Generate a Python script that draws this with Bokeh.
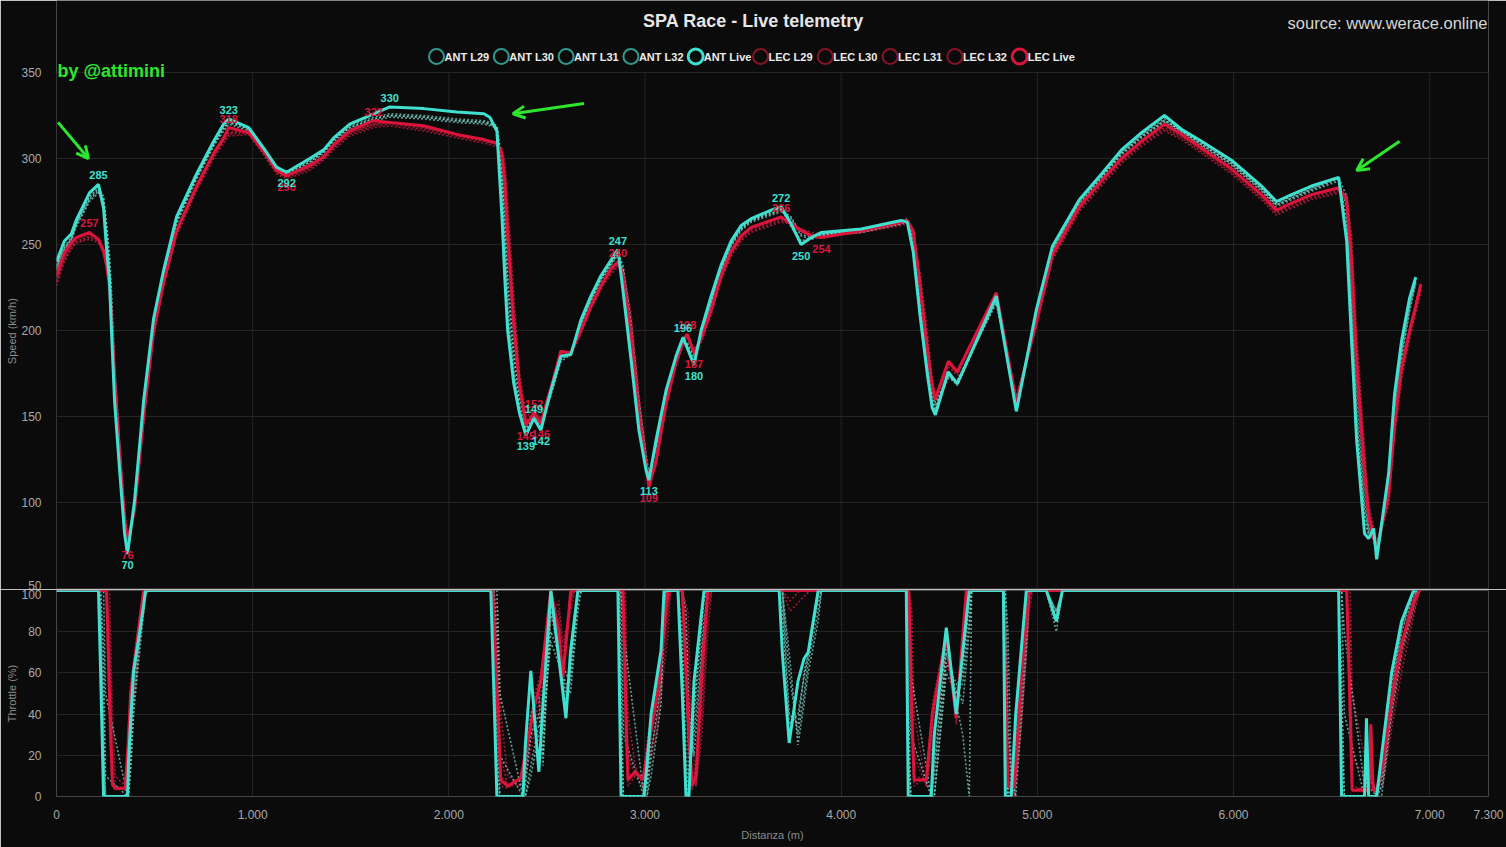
import numpy as np
from bokeh.plotting import figure
from bokeh.layouts import column
from bokeh.models import (Range1d, FixedTicker, Label, Arrow, OpenHead)
from bokeh.core.properties import value
from bokeh.embed import file_html
from bokeh.resources import INLINE

nan = float("nan")

# ---------------- DATA ----------------
SERIES_NAMES = ["ANT L29", "ANT L30", "ANT L31", "ANT L32", "ANT Live",
                "LEC L29", "LEC L30", "LEC L31", "LEC L32", "LEC Live"]

# distance grid for speed (m)
DIST = [0, 40, 75, 100, 168, 214, 240, 255, 270, 281,
        296, 321, 347, 362, 398, 444, 495, 546, 612, 714,
        801, 852, 878, 980, 1056, 1122, 1173, 1291, 1362, 1413,
        1495, 1617, 1699, 1872, 2041, 2179, 2209, 2245, 2270, 2286,
        2300, 2330, 2360, 2393, 2434, 2469, 2520, 2571, 2622, 2673,
        2724, 2776, 2827, 2862, 2888, 2929, 2969, 3005, 3020, 3056,
        3107, 3158, 3194, 3215, 3250, 3286, 3337, 3388, 3439, 3490,
        3541, 3643, 3694, 3745, 3796, 3847, 3900, 4102, 4306, 4337,
        4367, 4403, 4439, 4464, 4480, 4546, 4592, 4791, 4893, 4995,
        5077, 5214, 5327, 5429, 5531, 5648, 5735, 5837, 5990, 6143,
        6219, 6296, 6398, 6536, 6577, 6602, 6628, 6668, 6689, 6714,
        6730, 6791, 6821, 6857, 6898, 6929, 6955]

ANT_LIVE_SPEED = [240, 252, 256, 264, 280, 285, 271, 248, 229, 198,
                  159, 120, 82, 70, 101, 159, 207, 235, 266, 291,
                  310, 320, 323, 318, 306, 295, 292, 300, 305, 312,
                  320, 326, 330, 329, 327, 326, 324, 316, 268, 229,
                  200, 170, 152, 139, 149, 142, 165, 185, 186, 206,
                  220, 232, 241, 247, 223, 183, 142, 119, 113, 136,
                  165, 185, 196, 190, 180, 200, 220, 238, 252, 261,
                  265, 270, 272, 262, 250, 254, 257, 259, 264, 263,
                  246, 208, 175, 155, 151, 176, 169, 220, 153, 212,
                  249, 276, 291, 305, 315, 325, 317, 310, 299, 284,
                  275, 279, 284, 289, 252, 194, 136, 82, 79, 85,
                  67, 117, 163, 194, 219, 231, nan]

ANT_L29_SPEED = [238, 249, 254, 262, 277, 282, 275, 256, 236, 210,
                 168, 126, 86, 73, 98, 155, 204, 233, 264, 289,
                 308, 318, 321, 317, 305, 294, 291, 298, 304, 311,
                 318, 323, 325, 324, 322, 321, 320, 318, 290, 250,
                 215, 178, 156, 143, 150, 144, 163, 184, 187, 204,
                 218, 230, 239, 245, 230, 190, 148, 121, 114, 133,
                 162, 183, 195, 191, 182, 197, 217, 236, 250, 259,
                 264, 268, 270, 262, 252, 254, 256, 258, 263, 264,
                 252, 215, 180, 160, 154, 174, 168, 218, 156, 208,
                 246, 274, 289, 303, 313, 322, 316, 308, 297, 282,
                 273, 277, 282, 288, 265, 210, 150, 95, 82, 79,
                 72, 112, 158, 190, 216, 229, nan]

ANT_L30_SPEED = [235, 246, 252, 260, 275, 280, 276, 260, 240, 215,
                 172, 130, 88, 75, 97, 152, 202, 231, 262, 288,
                 307, 316, 320, 316, 304, 293, 290, 297, 303, 310,
                 317, 322, 324, 323, 321, 320, 319, 318, 295, 262,
                 225, 185, 160, 145, 151, 146, 162, 182, 186, 203,
                 217, 229, 238, 244, 235, 198, 154, 124, 116, 131,
                 160, 181, 193, 192, 184, 195, 215, 234, 249, 258,
                 263, 267, 269, 265, 255, 253, 255, 257, 262, 264,
                 255, 222, 186, 164, 156, 172, 170, 216, 158, 205,
                 244, 272, 288, 302, 312, 321, 315, 307, 296, 281,
                 272, 276, 281, 287, 272, 220, 160, 100, 84, 78,
                 74, 108, 152, 186, 213, 227, nan]

ANT_L31_SPEED = [237, 248, 253, 261, 276, 281, 273, 252, 232, 205,
                 165, 124, 85, 72, 100, 157, 205, 234, 265, 290,
                 309, 319, 322, 318, 306, 295, 292, 299, 305, 312,
                 319, 324, 326, 325, 323, 322, 321, 319, 285, 240,
                 208, 175, 154, 142, 148, 143, 164, 185, 186, 205,
                 219, 231, 240, 246, 228, 187, 146, 120, 114, 134,
                 163, 184, 195, 190, 181, 198, 218, 237, 251, 260,
                 264, 269, 271, 260, 251, 253, 256, 258, 263, 264,
                 250, 212, 178, 158, 153, 175, 169, 219, 155, 210,
                 247, 275, 290, 304, 314, 323, 316, 309, 298, 283,
                 274, 278, 283, 289, 260, 205, 145, 90, 81, 80,
                 70, 114, 160, 192, 217, 230, nan]

ANT_L32_SPEED = [236, 247, 253, 262, 278, 283, 278, 262, 244, 222,
                 180, 135, 92, 76, 99, 156, 203, 232, 263, 289,
                 308, 317, 321, 317, 305, 294, 291, 298, 304, 311,
                 318, 323, 325, 324, 322, 321, 320, 319, 300, 270,
                 232, 190, 162, 146, 150, 145, 163, 183, 187, 204,
                 218, 230, 239, 245, 238, 205, 160, 128, 117, 132,
                 161, 182, 194, 193, 186, 196, 216, 235, 250, 259,
                 264, 268, 270, 266, 256, 254, 256, 258, 263, 265,
                 258, 228, 192, 168, 158, 173, 171, 217, 160, 206,
                 245, 273, 289, 303, 313, 322, 316, 308, 297, 282,
                 273, 277, 282, 289, 278, 232, 172, 110, 86, 80,
                 75, 106, 150, 184, 211, 228, nan]

LEC_LIVE_SPEED = [232, 245, 251, 254, 257, 253, 246, 238, 226, 205,
                  170, 128, 90, 76, 96, 150, 200, 228, 258, 284,
                  303, 312, 318, 315, 304, 293, 290, 296, 301, 308,
                  316, 322, 321, 319, 314, 311, 310, 309, 303, 285,
                  255, 205, 168, 145, 152, 146, 166, 188, 187, 200,
                  214, 226, 236, 240, 232, 198, 152, 122, 109, 124,
                  158, 182, 194, 198, 187, 195, 212, 232, 246, 255,
                  260, 264, 266, 262, 258, 255, 254, 258, 263, 264,
                  258, 225, 188, 168, 160, 182, 176, 222, 158, 205,
                  244, 272, 287, 300, 310, 320, 314, 306, 294, 279,
                  270, 274, 279, 283, 276, 240, 180, 118, 92, 80,
                  72, 105, 145, 178, 200, 214, 227]

LEC_L29_SPEED = [226, 240, 247, 251, 254, 252, 247, 241, 230, 212,
                 178, 135, 95, 80, 94, 147, 197, 226, 256, 282,
                 301, 310, 314, 315, 303, 292, 289, 294, 300, 306,
                 314, 319, 320, 317, 313, 310, 309, 308, 306, 295,
                 268, 215, 172, 150, 153, 148, 167, 186, 186, 199,
                 213, 225, 234, 238, 235, 205, 158, 126, 111, 122,
                 155, 180, 192, 196, 189, 194, 210, 230, 244, 253,
                 258, 262, 264, 262, 259, 256, 255, 257, 262, 263,
                 258, 230, 196, 170, 160, 182, 176, 220, 160, 203,
                 242, 270, 285, 298, 308, 317, 312, 304, 292, 277,
                 268, 272, 277, 281, 278, 250, 192, 128, 98, 84,
                 76, 100, 140, 174, 197, 212, 224]

LEC_L30_SPEED = [229, 242, 249, 252, 255, 253, 246, 239, 227, 208,
                 172, 130, 92, 79, 95, 149, 199, 227, 257, 283,
                 302, 311, 315, 316, 304, 292, 289, 295, 300, 307,
                 315, 320, 321, 318, 314, 311, 310, 309, 304, 288,
                 258, 208, 170, 148, 152, 147, 166, 187, 186, 200,
                 214, 226, 235, 239, 233, 200, 155, 124, 110, 123,
                 156, 181, 193, 197, 188, 194, 211, 231, 245, 254,
                 259, 263, 265, 262, 258, 255, 254, 257, 262, 263,
                 257, 227, 192, 167, 159, 181, 175, 221, 159, 204,
                 243, 271, 286, 299, 309, 318, 313, 305, 293, 278,
                 269, 273, 278, 282, 277, 245, 186, 122, 95, 82,
                 74, 102, 142, 176, 198, 213, 225]

LEC_L31_SPEED = [231, 244, 250, 253, 256, 254, 248, 242, 232, 216,
                 182, 138, 98, 81, 93, 146, 196, 225, 255, 281,
                 300, 309, 313, 314, 302, 291, 288, 293, 299, 305,
                 313, 318, 319, 316, 312, 309, 308, 307, 306, 298,
                 275, 222, 176, 152, 154, 149, 168, 187, 185, 198,
                 212, 224, 233, 237, 236, 210, 163, 129, 112, 121,
                 154, 179, 191, 195, 190, 193, 209, 229, 243, 252,
                 257, 261, 263, 262, 259, 257, 256, 257, 261, 262,
                 259, 233, 200, 173, 162, 183, 177, 219, 162, 202,
                 241, 269, 284, 297, 307, 316, 311, 303, 291, 276,
                 267, 271, 276, 280, 279, 255, 198, 132, 100, 86,
                 77, 98, 138, 172, 195, 210, 222]

LEC_L32_SPEED = [228, 241, 248, 251, 253, 251, 245, 238, 226, 206,
                 170, 128, 90, 78, 97, 151, 201, 229, 258, 284,
                 303, 311, 315, 316, 304, 293, 290, 295, 301, 307,
                 315, 320, 321, 318, 314, 311, 310, 309, 302, 283,
                 250, 200, 166, 147, 151, 146, 166, 188, 187, 201,
                 215, 227, 236, 240, 231, 196, 150, 121, 110, 125,
                 159, 183, 194, 197, 187, 196, 213, 232, 246, 255,
                 260, 264, 266, 263, 259, 256, 255, 258, 263, 264,
                 255, 223, 188, 165, 158, 179, 174, 222, 158, 206,
                 244, 272, 287, 300, 310, 319, 314, 306, 294, 279,
                 270, 274, 279, 283, 275, 238, 178, 115, 90, 80,
                 73, 104, 146, 180, 201, 216, 228]

# throttle (%) — ANT distance grid
THR_D_ANT = [0, 214, 225, 240, 250, 362, 367, 380, 393, 418, 440, 454, 470,
             2214, 2230, 2245, 2260, 2378, 2390, 2418, 2459, 2480, 2520, 2597, 2620, 2658, 2675,
             2862, 2870, 2878, 2890, 2995, 3010, 3031, 3082, 3097, 3110, 3168, 3190, 3209, 3224, 3250, 3301, 3320,
             3684, 3700, 3735, 3780, 3811, 3832, 3883, 3900,
             4332, 4342, 4355, 4459, 4475, 4536, 4587, 4620, 4653, 4665, 4827, 4837, 4850, 4867, 4890, 4944, 4960,
             5046, 5097, 5128,
             6536, 6551, 6565, 6668, 6678, 6689, 6730, 6755, 6806, 6857, 6918, 6935]

ANT_LIVE_THR = [100, 100, 60, 0, 0, 0, 17, 40, 61, 76, 90, 100, 100,
                100, 50, 0, 0, 0, 25, 61, 12, 45, 100, 38, 70, 100, 100,
                100, 50, 0, 0, 0, 15, 40, 71, 100, 100, 100, 50, 0, 0, 56, 100, 100,
                100, 70, 26, 56, 67, 70, 100, 100,
                100, 0, 0, 0, 30, 82, 40, 70, 100, 100, 100, 0, 0, 0, 40, 100, 100,
                100, 85, 100,
                100, 0, 0, 0, 38, 0, 0, 20, 60, 85, 100, 100]

ANT_L29_THR = [100, 100, 100, 40, 0, 0, 5, 30, 55, 75, 95, 100, 100,
               100, 100, 40, 0, 0, 5, 30, 40, 20, 90, 50, 60, 100, 100,
               100, 100, 60, 0, 0, 5, 30, 65, 95, 100, 100, 80, 20, 0, 40, 95, 100,
               100, 100, 40, 35, 60, 70, 95, 100,
               100, 50, 0, 0, 10, 70, 50, 60, 95, 100, 100, 60, 0, 5, 25, 90, 100,
               100, 90, 100,
               100, 60, 0, 0, 20, 5, 0, 10, 50, 80, 98, 100]

ANT_L30_THR = [100, 100, 100, 70, 10, 0, 0, 20, 45, 70, 90, 100, 100,
               100, 100, 80, 20, 0, 0, 15, 35, 30, 80, 60, 55, 95, 100,
               100, 100, 100, 30, 0, 0, 20, 55, 90, 100, 100, 100, 60, 10, 30, 85, 100,
               100, 100, 60, 30, 50, 65, 90, 100,
               100, 100, 30, 0, 0, 65, 55, 45, 80, 100, 100, 100, 40, 0, 10, 80, 100,
               100, 88, 100,
               100, 100, 40, 0, 10, 10, 0, 5, 45, 75, 95, 100]

ANT_L31_THR = [100, 100, 90, 20, 0, 0, 10, 35, 60, 78, 95, 100, 100,
               100, 90, 20, 0, 0, 10, 40, 50, 15, 95, 45, 65, 100, 100,
               100, 90, 30, 0, 0, 8, 35, 68, 98, 100, 100, 70, 5, 0, 45, 98, 100,
               100, 90, 35, 40, 58, 68, 98, 100,
               100, 20, 0, 0, 15, 75, 45, 30, 0, 100, 100, 30, 0, 0, 35, 95, 100,
               100, 80, 100,
               100, 30, 0, 0, 30, 0, 0, 15, 55, 82, 100, 100]

ANT_L32_THR = [100, 100, 100, 100, 50, 0, 0, 15, 40, 65, 85, 98, 100,
               100, 100, 100, 50, 0, 0, 10, 30, 35, 75, 55, 50, 90, 100,
               100, 100, 100, 80, 0, 0, 10, 45, 85, 100, 100, 100, 90, 40, 20, 80, 100,
               100, 100, 70, 25, 45, 60, 85, 100,
               100, 100, 60, 0, 0, 60, 50, 55, 85, 100, 100, 100, 80, 10, 0, 70, 100,
               100, 90, 100,
               100, 100, 80, 5, 5, 15, 0, 0, 40, 70, 92, 100]

# throttle (%) — LEC distance grid
THR_D_LEC = [0, 255, 270, 285, 300, 350, 365, 378, 413, 444, 460,
             2224, 2250, 2265, 2300, 2367, 2403, 2434, 2469, 2520, 2560, 2581, 2622, 2640,
             2870, 2888, 2900, 2913, 2950, 2990, 3015, 3066, 3117, 3130,
             3190, 3219, 3240, 3260, 3290, 3320, 3340,
             3700, 3740, 3790, 3840,
             4345, 4360, 4372, 4434, 4465, 4536, 4587, 4638, 4655, 4827, 4840, 4850, 4883, 4920, 4959, 4975,
             6577, 6595, 6605, 6690, 6700, 6712, 6730, 6760, 6810, 6860, 6920, 6949]

LEC_LIVE_THR = [100, 100, 50, 6, 4, 4, 25, 50, 77, 100, 100,
                100, 40, 8, 5, 9, 27, 43, 56, 100, 80, 58, 100, 100,
                100, 100, 50, 8, 12, 8, 24, 51, 100, 100,
                100, 40, 5, 10, 60, 100, 100,
                100, 100, 100, 100,
                100, 40, 8, 8, 40, 78, 38, 100, 100, 100, 40, 5, 5, 60, 100, 100,
                100, 40, 3, 3, 35, 3, 3, 15, 50, 75, 95, 100]

LEC_L29_THR = [100, 100, 80, 20, 5, 3, 15, 40, 70, 95, 100,
               100, 70, 20, 5, 6, 20, 35, 50, 90, 90, 70, 95, 100,
               100, 100, 80, 20, 10, 5, 15, 40, 90, 100,
               100, 70, 10, 5, 40, 90, 100,
               100, 95, 100, 100,
               100, 70, 20, 5, 30, 70, 45, 90, 100, 100, 70, 10, 0, 45, 95, 100,
               100, 80, 20, 5, 20, 5, 2, 10, 40, 68, 90, 100]

LEC_L30_THR = [100, 100, 30, 5, 3, 5, 30, 55, 80, 100, 100,
               100, 30, 5, 4, 10, 30, 48, 60, 100, 75, 55, 98, 100,
               100, 90, 30, 5, 10, 10, 30, 55, 100, 100,
               100, 30, 3, 15, 70, 100, 100,
               100, 100, 100, 100,
               100, 30, 5, 10, 45, 80, 35, 100, 100, 100, 30, 3, 8, 65, 100, 100,
               100, 30, 3, 5, 30, 3, 5, 18, 55, 80, 97, 100]

LEC_L31_THR = [100, 100, 100, 40, 10, 5, 10, 35, 65, 90, 100,
               100, 90, 40, 10, 5, 15, 30, 45, 85, 95, 75, 90, 100,
               100, 100, 100, 40, 15, 5, 10, 35, 80, 100,
               100, 90, 30, 5, 30, 80, 100,
               100, 90, 95, 100,
               100, 90, 40, 5, 25, 65, 50, 80, 100, 100, 90, 30, 0, 35, 90, 100,
               100, 100, 50, 8, 10, 8, 0, 5, 35, 62, 88, 100]

LEC_L32_THR = [100, 100, 60, 8, 4, 4, 22, 48, 75, 98, 100,
               100, 50, 10, 6, 8, 25, 40, 55, 95, 85, 62, 100, 100,
               100, 100, 60, 10, 12, 8, 20, 48, 95, 100,
               100, 50, 8, 8, 50, 95, 100,
               100, 100, 100, 100,
               100, 50, 10, 8, 35, 75, 40, 95, 100, 100, 50, 8, 3, 55, 98, 100,
               100, 50, 5, 3, 28, 4, 3, 12, 45, 72, 93, 100]

# annotated extremes of the live laps
ANT_MARK_D = [214, 362, 878, 1173, 1699, 2393, 2434, 2469, 2862, 3020, 3194, 3250, 3694, 3796]
LEC_MARK_D = [168, 362, 878, 1173, 1617, 2393, 2434, 2469, 2862, 3020, 3215, 3250, 3694, 3900]
MARK_SIDE = ["max", "min", "max", "min", "max", "min", "max", "min", "max", "min", "max", "min", "max", "min"]

X_TICKS = [0, 1000, 2000, 3000, 4000, 5000, 6000, 7000, 7300]
X_TICK_LABELS = ["0", "1.000", "2.000", "3.000", "4.000", "5.000", "6.000", "7.000", "7.300"]
SPEED_TICKS = [50, 100, 150, 200, 250, 300, 350]
THR_TICKS = [0, 20, 40, 60, 80, 100]

# ---------------- STYLE ----------------
FONT = "Liberation Sans"
BG = "#0b0b0b"
GRID = "#242424"
TICK_C = "#a9a9a9"
AXLBL_C = "#8c8c8c"
ANT_LIVE_C = "#40e0d0"
ANT_OLD_C = "#7fcfc3"
ANT_OLD_LEG = "#2f9a89"
LEC_LIVE_C = "#dc143c"
LEC_OLD_C = "#c21d3f"
LEC_OLD_LEG = "#861328"
GREEN = "#2ee62e"

for arr in [ANT_LIVE_SPEED, ANT_L29_SPEED, ANT_L30_SPEED, ANT_L31_SPEED, ANT_L32_SPEED,
            LEC_LIVE_SPEED, LEC_L29_SPEED, LEC_L30_SPEED, LEC_L31_SPEED, LEC_L32_SPEED]:
    assert len(arr) == len(DIST), len(arr)
for arr in [ANT_LIVE_THR, ANT_L29_THR, ANT_L30_THR, ANT_L31_THR, ANT_L32_THR]:
    assert len(arr) == len(THR_D_ANT), len(arr)
for arr in [LEC_LIVE_THR, LEC_L29_THR, LEC_L30_THR, LEC_L31_THR, LEC_L32_THR]:
    assert len(arr) == len(THR_D_LEC), len(arr)

label_overrides = {t: l for t, l in zip(X_TICKS, X_TICK_LABELS)}

# layout geometry (px)
LEFT = 56
PLOT_RIGHT = 18
SPEED_TOP_PX = 72          # y of the 350 line
SPEED_H = 516              # 50..350
PX_PER_M = (1506 - LEFT - PLOT_RIGHT) / 7300.0
PX_PER_KMH = SPEED_H / 300.0
NB = "\u00a0"


def px_to_d(px):
    return (px - LEFT) / PX_PER_M


def py_to_v(py):
    return 350 + (SPEED_TOP_PX - py) / PX_PER_KMH


def style_yaxis(p):
    p.background_fill_color = BG
    p.border_fill_color = BG
    p.outline_line_color = None
    ax = p.yaxis[0]
    ax.axis_line_color = None
    ax.major_tick_line_color = None
    ax.minor_tick_line_color = None
    ax.major_label_text_color = TICK_C
    ax.major_label_text_font = FONT
    ax.major_label_text_font_size = "12px"
    ax.major_label_standoff = 9
    ax.axis_label_text_color = AXLBL_C
    ax.axis_label_text_font = FONT
    ax.axis_label_text_font_size = "11px"
    ax.axis_label_text_font_style = "normal"
    ax.axis_label_standoff = 0


# ---------------- SPEED PANEL (frame also hosts the header) ----------------
y1_top = 50 + (SPEED_H + SPEED_TOP_PX) / PX_PER_KMH
p1 = figure(width=1506, height=589, x_range=Range1d(0, 7300), y_range=Range1d(50, y1_top),
            output_backend="svg", toolbar_location=None, x_axis_location=None,
            min_border_left=LEFT, min_border_right=PLOT_RIGHT, min_border_top=0, min_border_bottom=1)
style_yaxis(p1)
p1.xgrid.visible = False
p1.ygrid.visible = False
p1.yaxis.ticker = FixedTicker(ticks=SPEED_TICKS)
# trailing no-break spaces re-centre the rotated label on the 50..350 band
p1.yaxis.axis_label = "Speed (km/h)" + NB * 24

# grid lines restricted to the speed area
p1.segment(x0=X_TICKS, y0=[50] * len(X_TICKS), x1=X_TICKS, y1=[350] * len(X_TICKS),
           line_color=GRID, line_width=1)
p1.segment(x0=[0] * len(SPEED_TICKS), y0=SPEED_TICKS, x1=[7300] * len(SPEED_TICKS),
           y1=SPEED_TICKS, line_color=GRID, line_width=1)

d = np.array(DIST, dtype=float)
for vals in [LEC_L29_SPEED, LEC_L30_SPEED, LEC_L31_SPEED, LEC_L32_SPEED]:
    p1.line(d, np.array(vals, dtype=float), line_color=LEC_OLD_C, line_width=1.6,
            line_dash="2 2", line_alpha=0.8)
for vals in [ANT_L29_SPEED, ANT_L30_SPEED, ANT_L31_SPEED, ANT_L32_SPEED]:
    p1.line(d, np.array(vals, dtype=float), line_color=ANT_OLD_C, line_width=1.6,
            line_dash="2 2", line_alpha=0.75)
p1.line(d, np.array(LEC_LIVE_SPEED, dtype=float), line_color=LEC_LIVE_C, line_width=3)
p1.line(d, np.array(ANT_LIVE_SPEED, dtype=float), line_color=ANT_LIVE_C, line_width=3)


def add_marks(p, mark_d, series, color):
    lookup = dict(zip(DIST, series))
    for side, baseline, off in [("max", "bottom", -5), ("min", "top", 7)]:
        xs = [m for m, s in zip(mark_d, MARK_SIDE) if s == side]
        ys = [lookup[m] for m in xs]
        txt = [str(int(v)) for v in ys]
        p.text(x=xs, y=ys, text=txt, text_color=color, text_font=value(FONT),
               text_font_size="11px", text_font_style="bold", text_align="center",
               text_baseline=baseline, y_offset=off)


add_marks(p1, LEC_MARK_D, LEC_LIVE_SPEED, "#d8173f")
add_marks(p1, ANT_MARK_D, ANT_LIVE_SPEED, ANT_LIVE_C)

# legend row in the header (hollow circles + names)
LEG_X0, LEG_PITCH, LEG_Y = 436, 64.8, 56
leg_colors = [ANT_OLD_LEG] * 4 + [ANT_LIVE_C] + [LEC_OLD_LEG] * 4 + [LEC_LIVE_C]
leg_widths = [3 if "Live" in n else 2 for n in SERIES_NAMES]
leg_cx = [px_to_d(LEG_X0 + i * LEG_PITCH) for i in range(len(SERIES_NAMES))]
leg_tx = [px_to_d(LEG_X0 + 8 + i * LEG_PITCH) for i in range(len(SERIES_NAMES))]
p1.scatter(x=leg_cx, y=[py_to_v(LEG_Y)] * len(leg_cx), marker="circle", size=15,
           fill_color=None, line_color=leg_colors, line_width=leg_widths)
p1.text(x=leg_tx, y=[py_to_v(LEG_Y)] * len(leg_tx), text=SERIES_NAMES,
        text_color="#ececec", text_font=value(FONT), text_font_size="11px",
        text_font_style="bold", text_align="left", text_baseline="middle")

# header texts
p1.add_layout(Label(x=px_to_d(753), y=py_to_v(20), text="SPA Race - Live telemetry", text_font=FONT,
                    text_font_size="18px", text_font_style="bold", text_color="#e6e6e6",
                    text_align="center", text_baseline="middle"))
p1.add_layout(Label(x=px_to_d(1487), y=py_to_v(22), text="source: www.werace.online", text_font=FONT,
                    text_font_size="16.5px", text_color="#d6d6d6",
                    text_align="right", text_baseline="middle"))
p1.add_layout(Label(x=px_to_d(57), y=py_to_v(70), text="by @attimini", text_font=FONT,
                    text_font_size="18px", text_font_style="bold", text_color=GREEN,
                    text_align="left", text_baseline="middle"))

# arrows
for xs, ys, xe, ye in [(8, 321, 163, 300), (2689, 332, 2327, 326), (6847, 310, 6628, 293)]:
    p1.add_layout(Arrow(end=OpenHead(line_color=GREEN, line_width=3, size=12),
                        x_start=xs, y_start=ys, x_end=xe, y_end=ye,
                        line_color=GREEN, line_width=3))

# ---------------- THROTTLE PANEL ----------------
p2 = figure(width=1506, height=258, x_range=Range1d(0, 7300), y_range=Range1d(0, 100),
            output_backend="svg", toolbar_location=None,
            min_border_left=LEFT, min_border_right=PLOT_RIGHT, min_border_top=1, min_border_bottom=51)
style_yaxis(p2)
p2.xgrid.ticker = FixedTicker(ticks=X_TICKS)
p2.xgrid.grid_line_color = GRID
p2.ygrid.grid_line_color = GRID
p2.yaxis.ticker = FixedTicker(ticks=THR_TICKS)
p2.ygrid.ticker = FixedTicker(ticks=THR_TICKS)
p2.yaxis.axis_label = "Throttle (%)"
xa = p2.xaxis[0]
xa.ticker = FixedTicker(ticks=X_TICKS)
xa.major_label_overrides = label_overrides
xa.axis_line_color = None
xa.major_tick_line_color = None
xa.minor_tick_line_color = None
xa.major_label_text_color = TICK_C
xa.major_label_text_font = FONT
xa.major_label_text_font_size = "12px"
xa.major_label_standoff = 7
xa.axis_label = "Distanza (m)"
xa.axis_label_text_color = AXLBL_C
xa.axis_label_text_font = FONT
xa.axis_label_text_font_size = "11px"
xa.axis_label_text_font_style = "normal"
xa.axis_label_standoff = 7

da = np.array(THR_D_ANT, dtype=float)
dl = np.array(THR_D_LEC, dtype=float)
for vals in [LEC_L29_THR, LEC_L30_THR, LEC_L31_THR, LEC_L32_THR]:
    p2.line(dl, vals, line_color=LEC_OLD_C, line_width=1.6, line_dash="2 2", line_alpha=0.8)
for vals in [ANT_L29_THR, ANT_L30_THR, ANT_L31_THR, ANT_L32_THR]:
    p2.line(da, vals, line_color=ANT_OLD_C, line_width=1.6, line_dash="2 2", line_alpha=0.75)
p2.line(dl, LEC_LIVE_THR, line_color=LEC_LIVE_C, line_width=3)
p2.line(da, ANT_LIVE_THR, line_color=ANT_LIVE_C, line_width=3)

layout = column(p1, p2, spacing=0)
open("out.html", "w").write(file_html(layout, INLINE))
